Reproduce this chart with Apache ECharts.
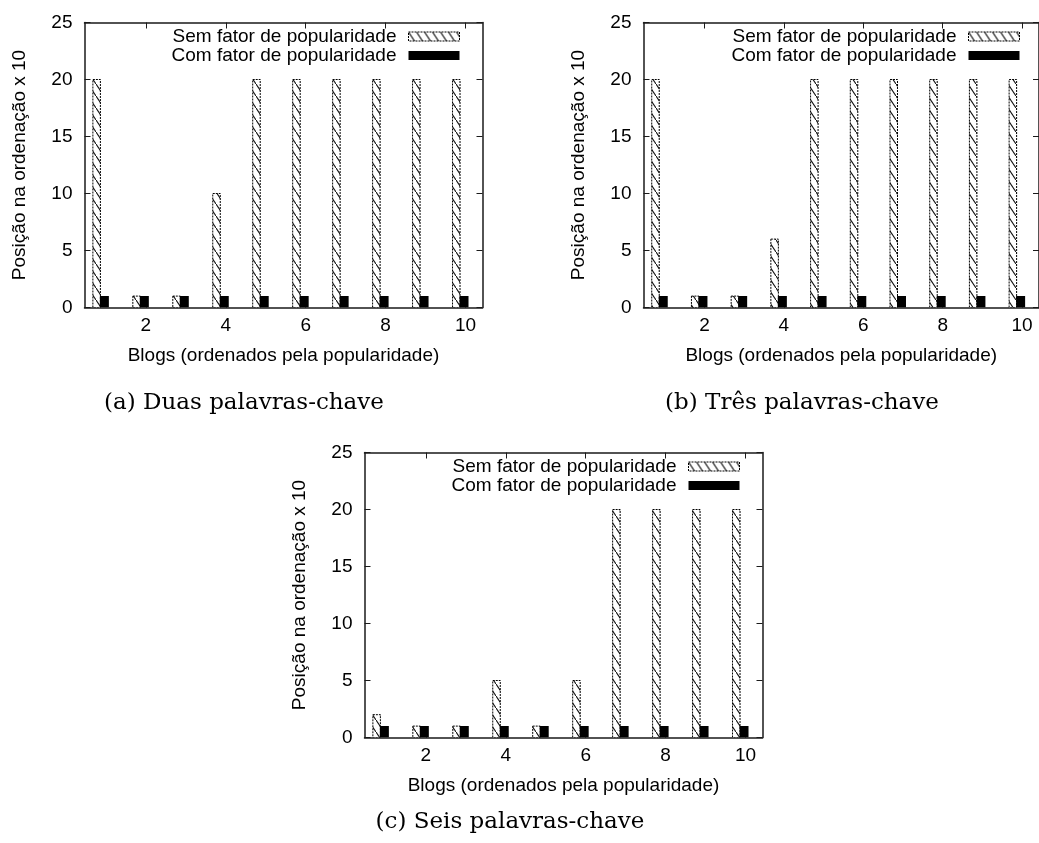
<!DOCTYPE html>
<html>
<head>
<meta charset="utf-8">
<script src="https://cdn.jsdelivr.net/npm/echarts@6/dist/echarts.min.js"></script>
<style>
  html, body { margin: 0; padding: 0; background: #fff; }
  #chart { width: 1039px; height: 843px; }
</style>
</head>
<body>
<div id="chart"></div>
<script>
// Blog ranking positions (x 10) for queries with 2, 3 and 6 keywords
const blogs = [1, 2, 3, 4, 5, 6, 7, 8, 9, 10];
const xTickValues = [2, 4, 6, 8, 10];
const seriesNames = ['Sem fator de popularidade', 'Com fator de popularidade'];

const semDuas  = [20, 1, 1, 10, 20, 20, 20, 20, 20, 20];
const comDuas  = [1, 1, 1, 1, 1, 1, 1, 1, 1, 1];
const semTres  = [20, 1, 1, 6, 20, 20, 20, 20, 20, 20];
const comTres  = [1, 1, 1, 1, 1, 1, 1, 1, 1, 1];
const semSeis  = [2, 1, 1, 5, 1, 5, 20, 20, 20, 20];
const comSeis  = [1, 1, 1, 1, 1, 1, 1, 1, 1, 1];

const captions = ['(a) Duas palavras-chave', '(b) Três palavras-chave', '(c) Seis palavras-chave'];
const xTitle = 'Blogs (ordenados pela popularidade)';
const yTitle = 'Posição na ordenação x 10';

const SANS = '"Liberation Sans", Arial, Helvetica, sans-serif';
const SERIF = '"DejaVu Serif", "Liberation Serif", serif';
const AXIS_COLOR = '#1a1a1a';

// diagonal hatch fill
function makeHatch() {
  const w = 8, h = 12;
  const c = document.createElement('canvas');
  c.width = w; c.height = h;
  const ctx = c.getContext('2d');
  ctx.fillStyle = '#fff';
  ctx.fillRect(0, 0, w, h);
  ctx.strokeStyle = '#111';
  ctx.lineWidth = 1.1;
  for (const d of [-1, 0, 1]) {
    ctx.beginPath();
    ctx.moveTo(d * w, d * h);
    ctx.lineTo(d * w + w, d * h + h);
    ctx.stroke();
  }
  return { image: c, repeat: 'repeat' };
}
const hatch = makeHatch();

const hatchStyle = { color: hatch, borderColor: '#000', borderWidth: 1, borderType: [2, 1] };
const solidStyle = { color: '#000', borderColor: '#000', borderWidth: 0 };

// panel layout in pixels
const panels = [
  { left: 84.5, top: 22.5, sem: semDuas, com: comDuas, legendRight: 579, legendTop: 27, caption: [244, 403] },
  { left: 643.5, top: 22.5, sem: semTres, com: comTres, legendRight: 19, legendTop: 27, caption: [802, 403] },
  { left: 364.5, top: 452.5, sem: semSeis, com: comSeis, legendRight: 299, legendTop: 457, caption: [510, 822] }
];
const PW = 398, PH = 285;

function barRenderer(offset, width) {
  return function (params, api) {
    const x = api.value(0), y = api.value(1);
    const top = api.coord([x, y]);
    const base = api.coord([x, 0]);
    return {
      type: 'rect',
      shape: { x: top[0] + offset, y: top[1], width: width, height: base[1] - top[1] },
      style: api.style()
    };
  };
}

const grid = [], xAxis = [], yAxis = [], series = [], legend = [], graphic = [];

panels.forEach((p, g) => {
  grid.push({ left: p.left, top: p.top, width: PW, height: PH, show: false });

  const lineStyle = { color: AXIS_COLOR, width: 1.5 };
  const tickStyle = { color: AXIS_COLOR, width: 1 };

  xAxis.push({
    gridIndex: g, type: 'value', position: 'bottom', min: 0.465, max: 10.425,
    name: xTitle, nameLocation: 'middle', nameGap: 39,
    nameTextStyle: { fontFamily: SANS, fontSize: 19, color: '#000' },
    axisLine: { show: true, onZero: false, lineStyle },
    axisTick: { show: true, inside: true, length: 6, lineStyle: tickStyle, customValues: xTickValues },
    axisLabel: { show: true, margin: 9, fontFamily: SANS, fontSize: 19, color: '#000', customValues: xTickValues },
    splitLine: { show: false }
  });
  xAxis.push({
    gridIndex: g, type: 'value', position: 'top', min: 0.465, max: 10.425,
    axisLine: { show: true, onZero: false, lineStyle },
    axisTick: { show: true, inside: true, length: 6, lineStyle: tickStyle, customValues: xTickValues },
    axisLabel: { show: false },
    splitLine: { show: false }
  });
  yAxis.push({
    gridIndex: g, type: 'value', position: 'left', min: 0, max: 25, interval: 5,
    name: yTitle, nameLocation: 'middle', nameGap: 55, nameRotate: 90,
    nameTextStyle: { fontFamily: SANS, fontSize: 19, color: '#000' },
    axisLine: { show: true, onZero: false, lineStyle },
    axisTick: { show: true, inside: true, length: 6, lineStyle: tickStyle },
    axisLabel: { show: true, margin: 12, fontFamily: SANS, fontSize: 19, color: '#000' },
    splitLine: { show: false }
  });
  yAxis.push({
    gridIndex: g, type: 'value', position: 'right', min: 0, max: 25, interval: 5,
    axisLine: { show: true, onZero: false, lineStyle },
    axisTick: { show: true, inside: true, length: 6, lineStyle: tickStyle },
    axisLabel: { show: false },
    splitLine: { show: false }
  });

  series.push({
    type: 'custom', name: seriesNames[0], xAxisIndex: 2 * g, yAxisIndex: 2 * g,
    renderItem: barRenderer(-13, 7.5), itemStyle: hatchStyle, clip: true,
    data: blogs.map((b, i) => [b, p.sem[i]])
  });
  series.push({
    type: 'custom', name: seriesNames[1], xAxisIndex: 2 * g, yAxisIndex: 2 * g,
    renderItem: barRenderer(-6, 9), itemStyle: solidStyle, clip: true,
    data: blogs.map((b, i) => [b, p.com[i]])
  });

  legend.push({
    orient: 'vertical', right: p.legendRight, top: p.legendTop, align: 'right',
    padding: 0, itemGap: 0, itemWidth: 51, itemHeight: 9, selectedMode: false,
    formatter: name => '{t|' + name + '}',
    textStyle: {
      rich: { t: { fontFamily: SANS, fontSize: 19, color: '#000', lineHeight: 19, padding: [0, 7, 0, 0] } }
    },
    data: [
      { name: seriesNames[0], icon: 'rect', itemStyle: hatchStyle },
      { name: seriesNames[1], icon: 'rect', itemStyle: solidStyle }
    ]
  });

  graphic.push({
    type: 'text', x: p.caption[0], y: p.caption[1],
    style: { text: captions[g], font: '23px ' + SERIF, fill: '#000', textAlign: 'center', textVerticalAlign: 'middle' }
  });
});

const chart = echarts.init(document.getElementById('chart'), null, { renderer: 'canvas' });
chart.setOption({
  animation: false,
  backgroundColor: '#fff',
  grid, xAxis, yAxis, series, legend, graphic
});
</script>
</body>
</html>
